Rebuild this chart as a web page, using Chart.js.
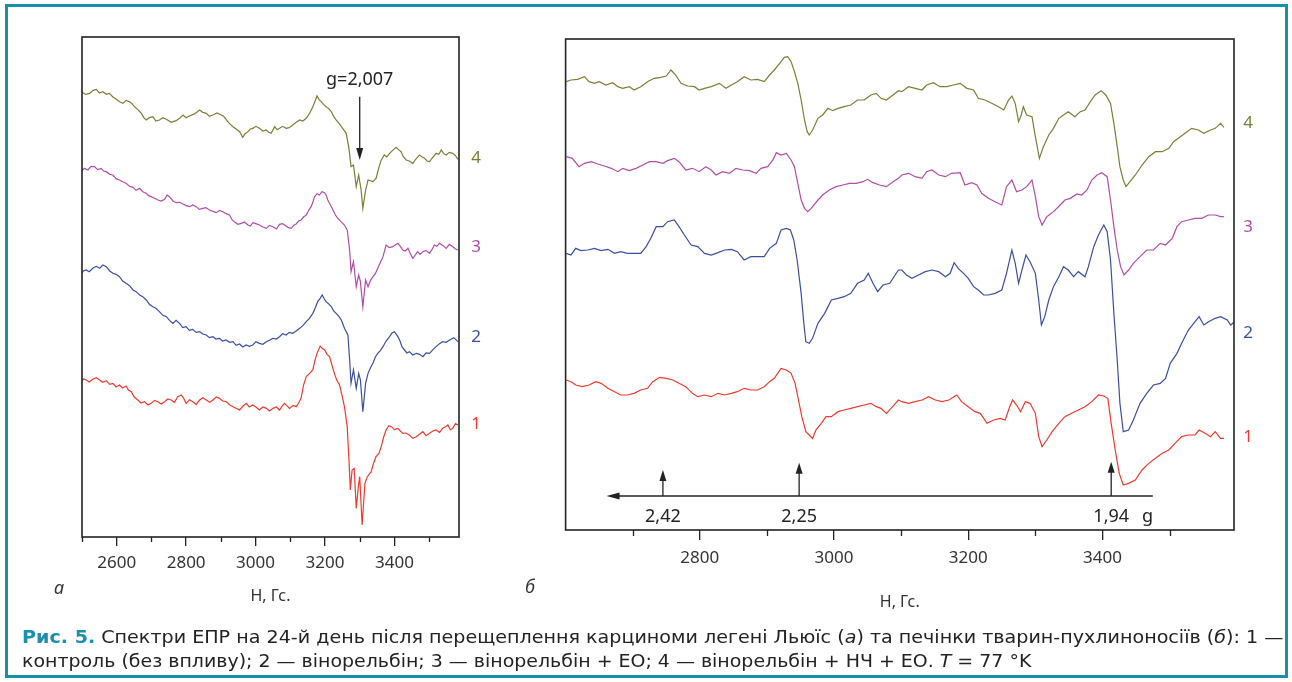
<!DOCTYPE html>
<html>
<head>
<meta charset="utf-8">
<script src="https://cdn.jsdelivr.net/npm/chart.js@4.4.1/dist/chart.umd.min.js"></script>
<style>
  body { margin: 0; width: 1292px; height: 682px; overflow: hidden; position: relative; background: #fff; font-family: "Noto Sans", sans-serif; }
  #frame { position: absolute; left: 5px; top: 4px; width: 1283px; height: 674px; border: 3px solid #1591ae; box-sizing: border-box; }
  canvas { position: absolute; top: 0; }
  #ca { left: 0; }
  #cb { left: 520px; }
  .panel { position: absolute; font-style: italic; font-size: 18px; color: #333; }
  .cap { position: absolute; left: 22px; white-space: nowrap; font-family: "Liberation Sans Narrow", "DejaVu Sans Condensed", "Roboto", sans-serif; font-stretch: condensed; font-size: 17px; line-height: 24px; color: #222; transform-origin: 0 50%; }
  .cap b { color: #1a8fb2; }
</style>
</head>
<body>
<div id="frame"></div>
<canvas id="ca" width="520" height="682"></canvas>
<canvas id="cb" width="772" height="682"></canvas>
<div class="panel" style="left:54px;top:575px">а</div>
<div class="panel" style="left:525px;top:574px">б</div>
<div class="cap" id="cap1" style="top:625px"><b>Рис. 5.</b> Спектри ЕПР на 24-й день після перещеплення карциноми легені Льюїс (<i>а</i>) та печінки тварин-пухлиноносіїв (<i>б</i>): 1 —</div>
<div class="cap" id="cap2" style="top:649px">контроль (без впливу); 2 — вінорельбін; 3 — вінорельбін + ЕО; 4 — вінорельбін + НЧ + ЕО. <i>T</i> = 77 °K</div>
<script>
// panel а: EPR spectra, field H (Gs) vs signal (arb. units)
const ticksA = [2500, 2600, 2700, 2800, 2900, 3000, 3100, 3200, 3300, 3400, 3500];
const labelsA = [2600, 2800, 3000, 3200, 3400];
const a1 = [[2498,466],[2505,474],[2512,471],[2521,465],[2531,473],[2541,478],[2551,471],[2560,464],[2570,469],[2580,458],[2589,461],[2598,450],[2608,456],[2617,447],[2627,453],[2634,441],[2642,436],[2651,419],[2661,411],[2670,402],[2680,406],[2690,396],[2699,401],[2709,410],[2719,406],[2728,399],[2738,406],[2747,414],[2757,411],[2766,404],[2776,421],[2786,426],[2793,416],[2800,401],[2810,412],[2819,406],[2829,398],[2839,411],[2848,418],[2858,411],[2868,404],[2877,411],[2887,420],[2896,416],[2905,408],[2915,406],[2925,397],[2935,391],[2944,386],[2954,381],[2964,393],[2973,401],[2982,390],[2992,396],[3002,389],[3011,381],[3021,390],[3031,386],[3040,378],[3050,386],[3060,390],[3069,381],[3076,392],[3083,401],[3090,394],[3098,386],[3108,395],[3117,391],[3124,402],[3131,416],[3138,455],[3146,481],[3155,490],[3165,501],[3171,530],[3177,551],[3186,573],[3192,566],[3199,561],[3206,548],[3213,541],[3220,516],[3227,491],[3234,470],[3242,456],[3249,425],[3256,391],[3264,331],[3269,231],[3273,141],[3278,201],[3284,206],[3290,86],[3296,151],[3300,181],[3307,36],[3315,161],[3322,181],[3333,196],[3340,222],[3347,241],[3355,250],[3362,271],[3369,300],[3376,321],[3384,334],[3391,331],[3400,322],[3410,326],[3417,318],[3424,311],[3433,312],[3443,306],[3453,296],[3463,301],[3472,308],[3482,316],[3491,304],[3501,311],[3511,318],[3520,321],[3530,314],[3539,326],[3546,330],[3554,336],[3561,322],[3568,326],[3576,340],[3583,336]];
const a2 = [[2498,791],[2505,799],[2512,801],[2521,796],[2531,806],[2541,812],[2551,806],[2560,816],[2570,811],[2580,798],[2589,791],[2598,788],[2608,781],[2617,768],[2627,761],[2637,754],[2647,741],[2656,736],[2666,726],[2675,721],[2685,711],[2694,698],[2704,691],[2713,686],[2723,676],[2733,665],[2743,661],[2752,650],[2762,641],[2771,650],[2781,641],[2790,628],[2800,631],[2809,620],[2819,623],[2829,614],[2839,616],[2848,609],[2858,606],[2867,598],[2877,601],[2886,594],[2896,596],[2905,588],[2915,591],[2925,584],[2935,586],[2944,575],[2954,579],[2963,570],[2973,576],[2982,572],[2992,576],[3001,586],[3011,581],[3021,578],[3031,586],[3040,590],[3050,596],[3060,594],[3069,601],[3078,610],[3088,606],[3097,614],[3107,611],[3117,618],[3127,626],[3136,634],[3146,646],[3155,656],[3165,671],[3172,688],[3179,706],[3186,716],[3192,726],[3198,714],[3203,706],[3210,700],[3218,691],[3225,678],[3232,671],[3240,662],[3247,651],[3256,626],[3266,606],[3271,531],[3275,461],[3282,501],[3290,446],[3297,491],[3302,471],[3309,376],[3317,461],[3324,491],[3331,508],[3338,521],[3345,540],[3352,551],[3360,560],[3367,571],[3376,588],[3386,601],[3393,612],[3400,616],[3408,604],[3415,591],[3422,570],[3429,561],[3436,552],[3443,556],[3453,546],[3463,551],[3472,548],[3482,541],[3491,552],[3501,551],[3511,562],[3520,571],[3530,580],[3539,586],[3549,584],[3559,591],[3571,598],[3583,586]];
const a3 = [[2498,1096],[2507,1106],[2517,1101],[2526,1112],[2536,1111],[2545,1102],[2555,1106],[2562,1098],[2570,1096],[2580,1088],[2589,1086],[2598,1075],[2608,1071],[2617,1066],[2627,1061],[2637,1052],[2647,1049],[2656,1040],[2666,1046],[2675,1036],[2685,1031],[2692,1024],[2699,1021],[2709,1016],[2719,1011],[2728,1008],[2738,1013],[2745,1026],[2752,1021],[2762,1008],[2771,1003],[2781,1004],[2791,999],[2800,994],[2810,991],[2819,996],[2829,991],[2838,983],[2848,986],[2857,988],[2867,981],[2877,977],[2887,973],[2896,980],[2906,976],[2915,970],[2925,966],[2932,952],[2939,946],[2949,938],[2959,941],[2968,945],[2978,936],[2985,933],[2992,943],[3001,940],[3011,936],[3021,930],[3031,926],[3040,935],[3050,931],[3060,924],[3069,938],[3078,940],[3088,933],[3095,928],[3103,926],[3110,935],[3117,939],[3124,948],[3131,951],[3138,960],[3146,966],[3153,980],[3160,991],[3165,1004],[3170,1021],[3177,1030],[3184,1026],[3191,1036],[3199,1033],[3204,1024],[3208,1011],[3216,995],[3223,981],[3230,966],[3237,956],[3246,946],[3256,936],[3264,921],[3271,861],[3275,796],[3282,826],[3290,751],[3297,786],[3302,766],[3309,691],[3317,771],[3324,751],[3331,770],[3338,781],[3345,790],[3352,806],[3360,825],[3367,841],[3376,876],[3385,868],[3395,871],[3402,876],[3410,881],[3417,872],[3424,861],[3431,858],[3439,866],[3446,850],[3453,836],[3460,846],[3467,856],[3474,848],[3482,856],[3491,860],[3501,851],[3508,862],[3515,876],[3522,872],[3530,881],[3540,874],[3549,866],[3558,878],[3568,871],[3576,864],[3583,861]];
const a4 = [[2498,1336],[2510,1328],[2522,1331],[2532,1340],[2541,1343],[2550,1332],[2560,1336],[2570,1328],[2579,1331],[2589,1320],[2599,1313],[2608,1306],[2618,1301],[2627,1310],[2637,1306],[2644,1300],[2651,1291],[2661,1282],[2671,1271],[2678,1258],[2685,1251],[2694,1258],[2704,1261],[2713,1248],[2723,1251],[2733,1258],[2743,1253],[2757,1244],[2771,1249],[2781,1256],[2791,1266],[2800,1258],[2810,1263],[2825,1270],[2839,1281],[2848,1274],[2858,1271],[2867,1262],[2877,1266],[2889,1272],[2901,1266],[2908,1262],[2915,1253],[2925,1240],[2935,1231],[2944,1224],[2954,1216],[2963,1199],[2970,1210],[2978,1216],[2985,1224],[2992,1226],[3001,1232],[3011,1226],[3021,1218],[3031,1221],[3038,1214],[3045,1211],[3055,1231],[3062,1222],[3069,1226],[3078,1232],[3088,1226],[3097,1228],[3107,1236],[3117,1244],[3127,1251],[3136,1248],[3146,1256],[3155,1270],[3165,1291],[3177,1323],[3183,1312],[3189,1306],[3196,1298],[3203,1291],[3210,1286],[3218,1276],[3225,1262],[3232,1251],[3241,1240],[3251,1226],[3261,1211],[3269,1166],[3275,1111],[3282,1116],[3290,1051],[3297,1086],[3304,1041],[3309,986],[3317,1041],[3324,1071],[3338,1066],[3347,1076],[3355,1108],[3362,1131],[3371,1146],[3378,1140],[3386,1151],[3395,1160],[3405,1169],[3412,1162],[3419,1156],[3426,1140],[3434,1131],[3443,1128],[3453,1121],[3462,1134],[3472,1146],[3480,1140],[3487,1136],[3494,1128],[3501,1126],[3510,1138],[3520,1151],[3528,1148],[3535,1161],[3542,1150],[3549,1146],[3558,1154],[3568,1151],[3576,1144],[3583,1133]];

// panel б
const ticksB = [2700, 2800, 2900, 3000, 3100, 3200, 3300, 3400, 3500];
const labelsB = [2800, 3000, 3200, 3400];
const b1 = [[2601,450],[2608,445],[2615,435],[2625,430],[2635,435],[2645,445],[2653,440],[2663,425],[2673,415],[2682,405],[2692,405],[2702,410],[2712,420],[2722,425],[2730,445],[2740,458],[2750,455],[2760,450],[2769,440],[2779,430],[2789,410],[2797,400],[2807,405],[2817,400],[2827,410],[2837,405],[2847,410],[2856,415],[2866,425],[2876,420],[2886,420],[2896,430],[2904,445],[2911,455],[2921,485],[2929,480],[2936,470],[2942,440],[2947,390],[2952,340],[2958,295],[2963,285],[2968,275],[2973,300],[2981,320],[2988,340],[2996,340],[3006,355],[3015,360],[3025,365],[3035,370],[3045,375],[3055,380],[3063,370],[3070,365],[3078,350],[3085,365],[3096,390],[3101,385],[3111,380],[3121,385],[3131,390],[3141,400],[3151,390],[3161,385],[3171,390],[3183,405],[3190,385],[3200,370],[3210,355],[3218,350],[3228,320],[3238,330],[3248,335],[3255,330],[3261,365],[3266,390],[3272,375],[3278,355],[3285,385],[3292,380],[3300,350],[3305,280],[3310,250],[3317,270],[3325,295],[3335,320],[3344,340],[3354,350],[3364,360],[3374,370],[3384,385],[3394,405],[3402,402],[3408,395],[3413,320],[3419,240],[3425,170],[3431,135],[3439,140],[3449,150],[3459,180],[3469,200],[3479,215],[3489,230],[3499,240],[3508,260],[3518,280],[3528,285],[3538,285],[3544,300],[3553,290],[3561,280],[3568,295],[3576,275],[3581,275]];
const b2 = [[2601,830],[2608,825],[2615,845],[2623,838],[2633,840],[2643,845],[2653,838],[2663,842],[2673,830],[2682,835],[2692,830],[2702,830],[2712,830],[2720,850],[2727,875],[2735,910],[2745,910],[2752,925],[2762,930],[2769,910],[2777,885],[2787,855],[2797,850],[2807,830],[2817,825],[2827,832],[2837,840],[2847,842],[2856,835],[2866,810],[2876,820],[2886,820],[2896,820],[2904,845],[2914,860],[2921,900],[2929,905],[2935,900],[2940,870],[2945,810],[2951,710],[2955,620],[2958,565],[2963,560],[2968,575],[2976,620],[2986,650],[2996,690],[3006,695],[3015,700],[3025,710],[3035,740],[3045,750],[3051,770],[3058,740],[3065,715],[3073,735],[3083,740],[3096,780],[3101,780],[3108,765],[3116,755],[3126,765],[3136,775],[3146,780],[3156,775],[3166,760],[3173,770],[3179,802],[3185,785],[3193,770],[3200,755],[3208,730],[3215,720],[3223,705],[3230,705],[3240,710],[3250,720],[3257,770],[3265,840],[3270,800],[3275,740],[3280,780],[3286,825],[3292,805],[3300,770],[3305,690],[3309,615],[3314,640],[3320,690],[3327,730],[3335,760],[3342,790],[3349,780],[3357,760],[3364,775],[3374,760],[3379,790],[3387,850],[3394,885],[3402,915],[3407,895],[3412,810],[3417,650],[3422,510],[3426,380],[3431,295],[3439,300],[3446,330],[3456,380],[3466,410],[3476,435],[3486,440],[3494,455],[3501,500],[3511,530],[3518,560],[3528,600],[3538,625],[3544,640],[3551,615],[3558,625],[3568,635],[3576,640],[3586,630],[3591,615],[3597,625]];
const b3 = [[2601,1120],[2610,1115],[2620,1090],[2628,1100],[2638,1105],[2648,1098],[2658,1092],[2668,1085],[2678,1075],[2685,1085],[2695,1078],[2705,1085],[2715,1095],[2725,1105],[2735,1105],[2745,1100],[2752,1108],[2762,1115],[2769,1105],[2779,1080],[2789,1085],[2799,1075],[2809,1090],[2817,1080],[2824,1065],[2834,1075],[2844,1070],[2854,1085],[2864,1080],[2874,1078],[2884,1070],[2891,1085],[2901,1090],[2909,1110],[2914,1132],[2921,1125],[2929,1130],[2936,1110],[2941,1090],[2946,1040],[2951,990],[2956,965],[2961,955],[2966,965],[2976,990],[2983,1005],[2993,1020],[3003,1030],[3013,1035],[3023,1040],[3033,1040],[3043,1045],[3050,1052],[3058,1042],[3068,1035],[3078,1030],[3088,1045],[3096,1055],[3101,1065],[3111,1070],[3121,1060],[3131,1055],[3138,1075],[3146,1080],[3156,1065],[3166,1060],[3175,1070],[3188,1072],[3195,1035],[3205,1042],[3213,1035],[3220,1010],[3230,995],[3240,985],[3250,975],[3257,1030],[3265,1050],[3272,1015],[3280,1020],[3287,1030],[3295,1050],[3300,1000],[3305,940],[3310,915],[3317,940],[3327,955],[3337,975],[3344,990],[3352,995],[3362,1008],[3369,1005],[3377,1020],[3384,1050],[3392,1065],[3399,1072],[3407,1060],[3412,990],[3417,910],[3422,840],[3427,790],[3432,765],[3439,780],[3446,800],[3456,820],[3466,840],[3476,840],[3486,860],[3494,855],[3504,875],[3511,910],[3518,925],[3528,930],[3538,935],[3548,935],[3558,945],[3568,945],[3576,940],[3581,940]];
const b4 = [[2601,1345],[2608,1350],[2618,1352],[2628,1360],[2635,1345],[2643,1340],[2650,1345],[2660,1335],[2670,1342],[2678,1330],[2685,1325],[2695,1330],[2702,1320],[2712,1330],[2722,1345],[2732,1355],[2742,1358],[2750,1362],[2757,1380],[2764,1365],[2772,1340],[2782,1332],[2792,1330],[2799,1320],[2807,1325],[2817,1330],[2829,1340],[2839,1325],[2847,1335],[2856,1345],[2866,1360],[2876,1350],[2886,1352],[2896,1345],[2904,1365],[2911,1380],[2919,1400],[2926,1418],[2931,1420],[2936,1405],[2941,1375],[2946,1340],[2951,1290],[2956,1230],[2960,1195],[2963,1185],[2968,1200],[2976,1235],[2983,1245],[2991,1265],[2998,1258],[3006,1265],[3015,1270],[3025,1275],[3035,1290],[3045,1290],[3055,1305],[3063,1310],[3070,1295],[3078,1290],[3088,1305],[3096,1318],[3101,1315],[3111,1330],[3121,1325],[3131,1320],[3138,1335],[3148,1342],[3158,1330],[3168,1330],[3178,1335],[3188,1340],[3198,1325],[3208,1320],[3215,1295],[3225,1290],[3235,1280],[3245,1270],[3253,1260],[3260,1290],[3265,1302],[3270,1280],[3275,1225],[3279,1245],[3282,1270],[3287,1245],[3295,1240],[3300,1180],[3306,1115],[3312,1150],[3320,1185],[3327,1205],[3335,1235],[3342,1245],[3349,1255],[3359,1240],[3367,1255],[3374,1260],[3382,1285],[3389,1305],[3398,1318],[3405,1305],[3412,1280],[3417,1220],[3422,1150],[3426,1090],[3431,1050],[3435,1030],[3441,1045],[3449,1065],[3459,1095],[3469,1120],[3479,1135],[3489,1135],[3499,1145],[3506,1165],[3513,1175],[3523,1190],[3533,1205],[3543,1200],[3551,1190],[3561,1200],[3568,1205],[3576,1220],[3581,1208]];

const gFactors = ['2,42', '2,25', '1,94'];
const gFields = [2745, 2948, 3413];
const colors = ['#ee3a2c', '#3a4ea4', '#b24ca8', '#7d7d36'];

const font = '"Noto Sans", sans-serif';

function arrowUp(ctx, x, yBase, yTip) {
  ctx.beginPath(); ctx.moveTo(x, yBase); ctx.lineTo(x, yTip + 8); ctx.stroke();
  ctx.beginPath(); ctx.moveTo(x, yTip); ctx.lineTo(x - 3.5, yTip + 11); ctx.lineTo(x + 3.5, yTip + 11); ctx.closePath(); ctx.fill();
}

const annot = {
  id: 'annot',
  afterDraw(chart, args, o) {
    const { ctx, chartArea: ca, scales: { x, y } } = chart;
    ctx.save();
    ctx.strokeStyle = '#222'; ctx.fillStyle = '#222'; ctx.lineWidth = 1.6;
    ctx.strokeRect(ca.left, ca.top, ca.right - ca.left, ca.bottom - ca.top);
    // short ticks for the unlabelled hundreds
    ctx.lineWidth = 1.3;
    x.ticks.forEach(t => {
      if (o.labels.includes(t.value)) return;
      const px = Math.round(x.getPixelForValue(t.value)) + 0.5;
      ctx.beginPath(); ctx.moveTo(px, ca.bottom); ctx.lineTo(px, ca.bottom + o.minorLen); ctx.stroke();
    });
    // curve numbers
    ctx.font = '17px ' + font; ctx.textAlign = 'center'; ctx.textBaseline = 'middle';
    chart.data.datasets.forEach((ds, i) => {
      ctx.fillStyle = ds.borderColor;
      ctx.fillText(ds.label, ca.right + o.numDx, y.getPixelForValue(o.numLevels[i]));
    });
    ctx.fillStyle = '#222'; ctx.strokeStyle = '#222'; ctx.lineWidth = 1.3;
    ctx.font = '18px ' + font;
    if (o.mark) {
      const m = o.mark, px = x.getPixelForValue(m.field);
      ctx.fillText(m.text, px, y.getPixelForValue(m.textLevel));
      const y0 = y.getPixelForValue(m.from), y1 = y.getPixelForValue(m.to);
      ctx.beginPath(); ctx.moveTo(px, y0); ctx.lineTo(px, y1 - 8); ctx.stroke();
      ctx.beginPath(); ctx.moveTo(px, y1); ctx.lineTo(px - 3.5, y1 - 12); ctx.lineTo(px + 3.5, y1 - 12); ctx.closePath(); ctx.fill();
    }
    if (o.gAxis) {
      const g = o.gAxis, ly = y.getPixelForValue(g.level);
      const xl = x.getPixelForValue(g.from), xr = x.getPixelForValue(g.to);
      ctx.beginPath(); ctx.moveTo(xr, ly); ctx.lineTo(xl + 10, ly); ctx.stroke();
      ctx.beginPath(); ctx.moveTo(xl, ly); ctx.lineTo(xl + 13, ly - 3.5); ctx.lineTo(xl + 13, ly + 3.5); ctx.closePath(); ctx.fill();
      gFields.forEach((f, i) => {
        const px = x.getPixelForValue(f);
        arrowUp(ctx, px, ly, y.getPixelForValue(g.tips[i]));
        ctx.fillText(gFactors[i], px, y.getPixelForValue(g.textLevel));
      });
      ctx.fillText('g', x.getPixelForValue(g.gField), y.getPixelForValue(g.textLevel));
    }
    ctx.restore();
  }
};

function spectrum(id, series, o) {
  return new Chart(document.getElementById(id), {
    type: 'line',
    data: {
      datasets: series.map((s, i) => ({
        label: String(i + 1),
        data: s.map(p => ({ x: p[0], y: p[1] })),
        borderColor: colors[i],
        borderWidth: 1.2,
        pointRadius: 0,
        tension: 0
      }))
    },
    options: {
      responsive: false,
      animation: false,
      layout: { padding: o.padding },
      plugins: { legend: { display: false }, tooltip: { enabled: false }, annot: Object.assign({ labels: o.labels }, o.annot) },
      scales: {
        x: {
          type: 'linear', min: o.min, max: o.max,
          afterFit: s => { s.height = o.axisHeight; },
          afterBuildTicks: s => { s.ticks = o.ticks.map(v => ({ value: v })); },
          ticks: {
            autoSkip: false, maxRotation: 0,
            padding: o.tickPad, color: '#333', font: { family: font, size: 17 },
            callback: v => o.labels.includes(v) ? String(v) : ''
          },
          grid: {
            drawOnChartArea: false, tickLength: o.majorLen, lineWidth: 1.3,
            tickColor: c => (c.tick && o.labels.includes(c.tick.value)) ? '#222' : 'rgba(0,0,0,0)'
          },
          border: { display: false },
          title: { display: true, text: 'H, Гс.', color: '#333', font: { family: font, size: 16 }, padding: { top: 0, bottom: o.titlePad } }
        },
        y: { display: false, min: 0, max: o.ymax }
      }
    },
    plugins: [annot]
  });
}

spectrum('ca', [a1, a2, a3, a4], {
  padding: { left: 82, top: 37, right: 61, bottom: 0 },
  min: 2500, max: 3586, ticks: ticksA, labels: labelsA, ymax: 1500,
  axisHeight: 145, majorLen: 9, tickPad: 7, titlePad: 76,
  annot: { minorLen: 5, numDx: 17, numLevels: [339, 600, 870, 1137], mark: { field: 3300, text: 'g=2,007', textLevel: 1371, from: 1321, to: 1131 } }
});

spectrum('cb', [b1, b2, b3, b4], {
  padding: { left: 45.6, top: 39, right: 58, bottom: 0 },
  min: 2600, max: 3596, ticks: ticksB, labels: labelsB, ymax: 1473,
  axisHeight: 152, majorLen: 10, tickPad: 8, titlePad: 70,
  annot: { minorLen: 6, numDx: 14, numLevels: [280, 591, 910, 1221], gAxis: { level: 102, from: 2661, to: 3475, tips: [180, 202, 205], textLevel: 40, gField: 3467 } }
});

// fit caption lines to the printed width
[['cap1', 1262], ['cap2', 1009]].forEach(([id, w]) => {
  const el = document.getElementById(id);
  el.style.transform = 'scaleX(' + (w / el.scrollWidth) + ')';
});
</script>
</body>
</html>
